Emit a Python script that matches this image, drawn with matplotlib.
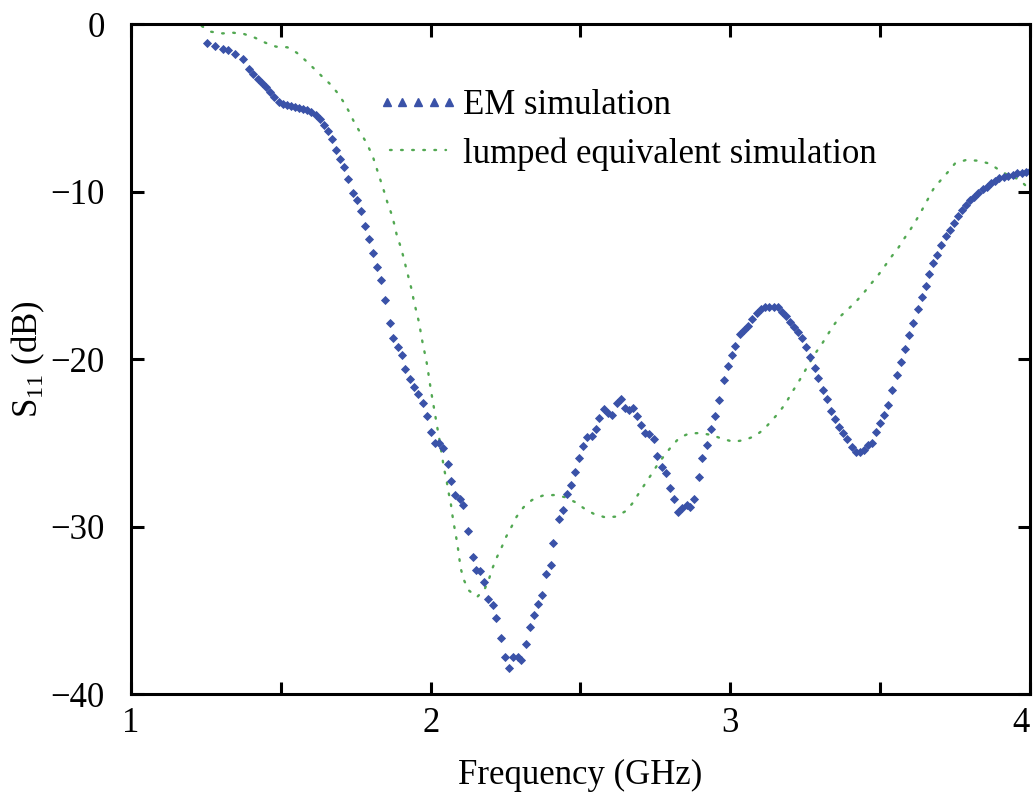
import matplotlib
matplotlib.use("Agg")
import matplotlib.pyplot as plt
from matplotlib.lines import Line2D
from matplotlib.legend_handler import HandlerLine2D

plt.rcParams["font.family"] = ["Liberation Serif", "DejaVu Serif"]
plt.rcParams["mathtext.fontset"] = "custom"
plt.rcParams["mathtext.rm"] = "Liberation Serif"

# EM simulation (GHz, dB)
em_freq = [
    1.253, 1.280, 1.307, 1.323, 1.347, 1.373, 1.394, 1.408, 1.423, 1.438,
    1.450, 1.464, 1.479, 1.494, 1.506, 1.520, 1.533, 1.547, 1.561, 1.575,
    1.588, 1.600, 1.616, 1.631, 1.644, 1.657, 1.671, 1.683, 1.697, 1.710,
    1.723, 1.740, 1.753, 1.766, 1.781, 1.795, 1.809, 1.822, 1.836, 1.848,
    1.864, 1.875, 1.890, 1.904, 1.915, 1.931, 1.945, 1.959, 1.973, 1.988,
    2.000, 2.014, 2.028, 2.042, 2.057, 2.068, 2.082, 2.098, 2.109, 2.125,
    2.140, 2.151, 2.165, 2.178, 2.192, 2.208, 2.219, 2.235, 2.249, 2.261,
    2.276, 2.290, 2.302, 2.317, 2.333, 2.345, 2.359, 2.371, 2.386, 2.400,
    2.410, 2.428, 2.443, 2.454, 2.467, 2.483, 2.495, 2.510, 2.523, 2.537,
    2.552, 2.563, 2.578, 2.593, 2.605, 2.621, 2.635, 2.648, 2.662, 2.676,
    2.687, 2.702, 2.716, 2.730, 2.745, 2.756, 2.772, 2.785, 2.799, 2.813,
    2.826, 2.838, 2.854, 2.865, 2.880, 2.895, 2.906, 2.921, 2.936, 2.950,
    2.963, 2.978, 2.991, 3.006, 3.017, 3.032, 3.047, 3.060, 3.073, 3.088,
    3.101, 3.116, 3.130, 3.146, 3.158, 3.171, 3.186, 3.199, 3.212, 3.225,
    3.238, 3.251, 3.266, 3.282, 3.294, 3.308, 3.324, 3.335, 3.349, 3.364,
    3.377, 3.390, 3.405, 3.418, 3.433, 3.447, 3.460, 3.474, 3.486, 3.499,
    3.513, 3.527, 3.540, 3.555, 3.569, 3.583, 3.596, 3.611, 3.625, 3.639,
    3.652, 3.664, 3.677, 3.691, 3.703, 3.719, 3.733, 3.746, 3.761, 3.774,
    3.786, 3.800, 3.813, 3.827, 3.842, 3.855, 3.869, 3.883, 3.898, 3.913,
    3.928, 3.944, 3.958, 3.972, 3.987, 4.000,
]
em_s11 = [
    -1.12, -1.31, -1.51, -1.55, -1.79, -2.11, -2.71, -2.99, -3.28, -3.54,
    -3.78, -4.06, -4.38, -4.66, -4.78, -4.86, -4.90, -4.94, -5.00, -5.10,
    -5.13, -5.24, -5.43, -5.69, -6.03, -6.39, -6.88, -7.52, -8.06, -8.56,
    -9.27, -10.07, -10.51, -11.14, -12.06, -12.84, -13.70, -14.50, -15.28, -16.48,
    -17.87, -18.76, -19.26, -19.76, -20.62, -21.21, -21.65, -22.09, -22.61, -23.40,
    -24.34, -25.03, -25.03, -25.30, -26.27, -27.30, -28.14, -28.38, -28.72, -30.25,
    -31.82, -32.60, -32.68, -33.30, -34.31, -34.71, -35.48, -36.66, -37.81, -38.45,
    -37.81, -37.81, -37.97, -37.03, -36.02, -35.26, -34.64, -34.07, -32.85, -32.30,
    -30.97, -29.57, -29.01, -28.08, -27.55, -26.75, -25.93, -25.19, -24.68, -24.60,
    -24.20, -23.50, -23.00, -23.24, -23.34, -22.65, -22.41, -22.94, -23.04, -22.94,
    -23.38, -23.94, -24.40, -24.48, -24.79, -25.77, -26.43, -26.82, -27.68, -28.38,
    -29.11, -28.92, -28.72, -28.86, -28.34, -27.02, -25.93, -25.13, -24.20, -23.42,
    -22.43, -21.25, -20.40, -19.76, -19.22, -18.51, -18.27, -18.03, -17.63, -17.24,
    -17.03, -16.88, -16.88, -16.88, -16.91, -17.18, -17.43, -17.77, -18.11, -18.37,
    -18.76, -19.27, -19.86, -20.56, -21.15, -21.85, -22.41, -23.09, -23.60, -24.04,
    -24.44, -24.80, -25.24, -25.53, -25.53, -25.43, -25.13, -25.00, -24.34, -23.80,
    -23.34, -22.75, -21.85, -20.96, -20.16, -19.42, -18.57, -17.83, -17.03, -16.28,
    -15.64, -14.93, -14.29, -13.79, -13.19, -12.66, -12.30, -11.86, -11.46, -11.10,
    -10.81, -10.51, -10.31, -10.07, -9.87, -9.71, -9.51, -9.36, -9.21, -9.12,
    -9.07, -9.01, -8.92, -8.88, -8.82, -8.78,
]

# lumped equivalent simulation (GHz, dB)
lumped_freq = [
    1.236, 1.267, 1.306, 1.341, 1.378, 1.414, 1.449, 1.484, 1.522, 1.553,
    1.581, 1.608, 1.636, 1.662, 1.686, 1.709, 1.728, 1.744, 1.762, 1.783,
    1.806, 1.823, 1.845, 1.855, 1.868, 1.878, 1.887, 1.900, 1.909, 1.918,
    1.928, 1.937, 1.944, 1.953, 1.962, 1.968, 1.975, 1.983, 1.990, 1.995,
    2.001, 2.007, 2.014, 2.020, 2.027, 2.033, 2.039, 2.045, 2.053, 2.059,
    2.067, 2.072, 2.078, 2.085, 2.091, 2.096, 2.101, 2.111, 2.127, 2.155,
    2.180, 2.195, 2.207, 2.221, 2.237, 2.252, 2.270, 2.287, 2.310, 2.338,
    2.373, 2.410, 2.447, 2.482, 2.513, 2.545, 2.582, 2.618, 2.652, 2.676,
    2.696, 2.717, 2.738, 2.758, 2.781, 2.805, 2.830, 2.863, 2.900, 2.938,
    2.973, 3.010, 3.047, 3.082, 3.112, 3.138, 3.162, 3.186, 3.205, 3.225,
    3.243, 3.262, 3.282, 3.305, 3.324, 3.344, 3.366, 3.392, 3.419, 3.444,
    3.468, 3.492, 3.514, 3.536, 3.561, 3.581, 3.602, 3.622, 3.641, 3.659,
    3.677, 3.700, 3.727, 3.750, 3.786, 3.828, 3.866, 3.899, 3.931, 3.964,
    3.989, 4.000,
]
lumped_s11 = [
    -0.12, -0.46, -0.56, -0.52, -0.60, -0.82, -1.12, -1.35, -1.39, -1.71,
    -2.15, -2.61, -3.10, -3.54, -4.04, -4.64, -5.24, -5.83, -6.39, -7.00,
    -7.85, -8.80, -10.01, -10.61, -11.27, -11.90, -12.60, -13.30, -13.89, -14.55,
    -15.24, -15.88, -16.54, -17.21, -17.87, -18.53, -19.20, -19.86, -20.52, -21.19,
    -21.85, -22.51, -23.20, -23.88, -24.54, -25.23, -25.89, -26.57, -27.22, -27.89,
    -28.58, -29.25, -29.91, -30.61, -31.27, -31.94, -32.54, -33.19, -33.81, -34.21,
    -33.75, -33.12, -32.46, -31.84, -31.24, -30.61, -30.01, -29.41, -28.85, -28.42,
    -28.16, -28.12, -28.24, -28.54, -28.93, -29.25, -29.45, -29.41, -29.07, -28.56,
    -27.98, -27.42, -26.85, -26.28, -25.73, -25.19, -24.70, -24.44, -24.42, -24.54,
    -24.76, -24.94, -24.84, -24.60, -24.20, -23.68, -23.20, -22.61, -22.01, -21.45,
    -20.90, -20.30, -19.70, -19.12, -18.57, -18.01, -17.47, -17.04, -16.58, -16.08,
    -15.54, -15.03, -14.49, -13.93, -13.35, -12.79, -12.24, -11.66, -11.06, -10.47,
    -9.87, -9.37, -8.82, -8.32, -8.12, -8.16, -8.34, -8.74, -9.07, -9.27,
    -9.71, -9.85,
]

x_ticks = [1, 1.5, 2, 2.5, 3, 3.5, 4]
x_tick_labels = ["1", "", "2", "", "3", "", "4"]
y_ticks = [-40, -30, -20, -10, 0]

blue = "#3a52a8"
green = "#52a852"
fs = 25

fig = plt.figure(figsize=(10.36, 7.98), dpi=100)
ax = fig.add_axes([0.1264, 0.1303, 0.8678, 0.8396])

dot_style = (0, (0.7, 4.0))
ax.plot(lumped_freq, lumped_s11, color=green, linestyle=dot_style,
        linewidth=1.7, dash_capstyle="round")
ax.plot(em_freq, em_s11, linestyle="none", marker="D", markersize=4.2,
        color=blue, markeredgewidth=0.6)

ax.set_xlim(1, 4)
ax.set_ylim(-40, 0)
ax.set_xticks(x_ticks, labels=x_tick_labels)
ax.set_yticks(y_ticks)

for s in ax.spines.values():
    s.set_linewidth(2.2)
ax.tick_params(direction="in", length=9, width=2.2, labelsize=fs,
               top=True, right=True)
ax.tick_params(axis="x", pad=9)
ax.tick_params(axis="y", pad=19)

# keep the last frequency label inside the figure
ax.xaxis.get_major_ticks()[-1].label1.set_horizontalalignment("right")

ax.set_xlabel("Frequency (GHz)", fontsize=fs, labelpad=14)
ax.set_ylabel("S$_{11}$ (dB)", fontsize=fs, labelpad=2)

em_handle = Line2D([], [], linestyle="none", marker="^", markersize=5.5,
                   color=blue)
lumped_handle = Line2D([], [], color=green, linestyle=dot_style,
                       linewidth=1.7, dash_capstyle="round")
ax.legend([em_handle, lumped_handle],
          ["EM simulation", "lumped equivalent simulation"],
          loc="upper left", bbox_to_anchor=(0.242, 0.95), frameon=False,
          fontsize=fs, numpoints=5, handlelength=2.2, handletextpad=0.2,
          labelspacing=0.44,
          handler_map={em_handle: HandlerLine2D(marker_pad=0.2)})

fig.savefig("out.png", dpi=100)
plt.close(fig)
